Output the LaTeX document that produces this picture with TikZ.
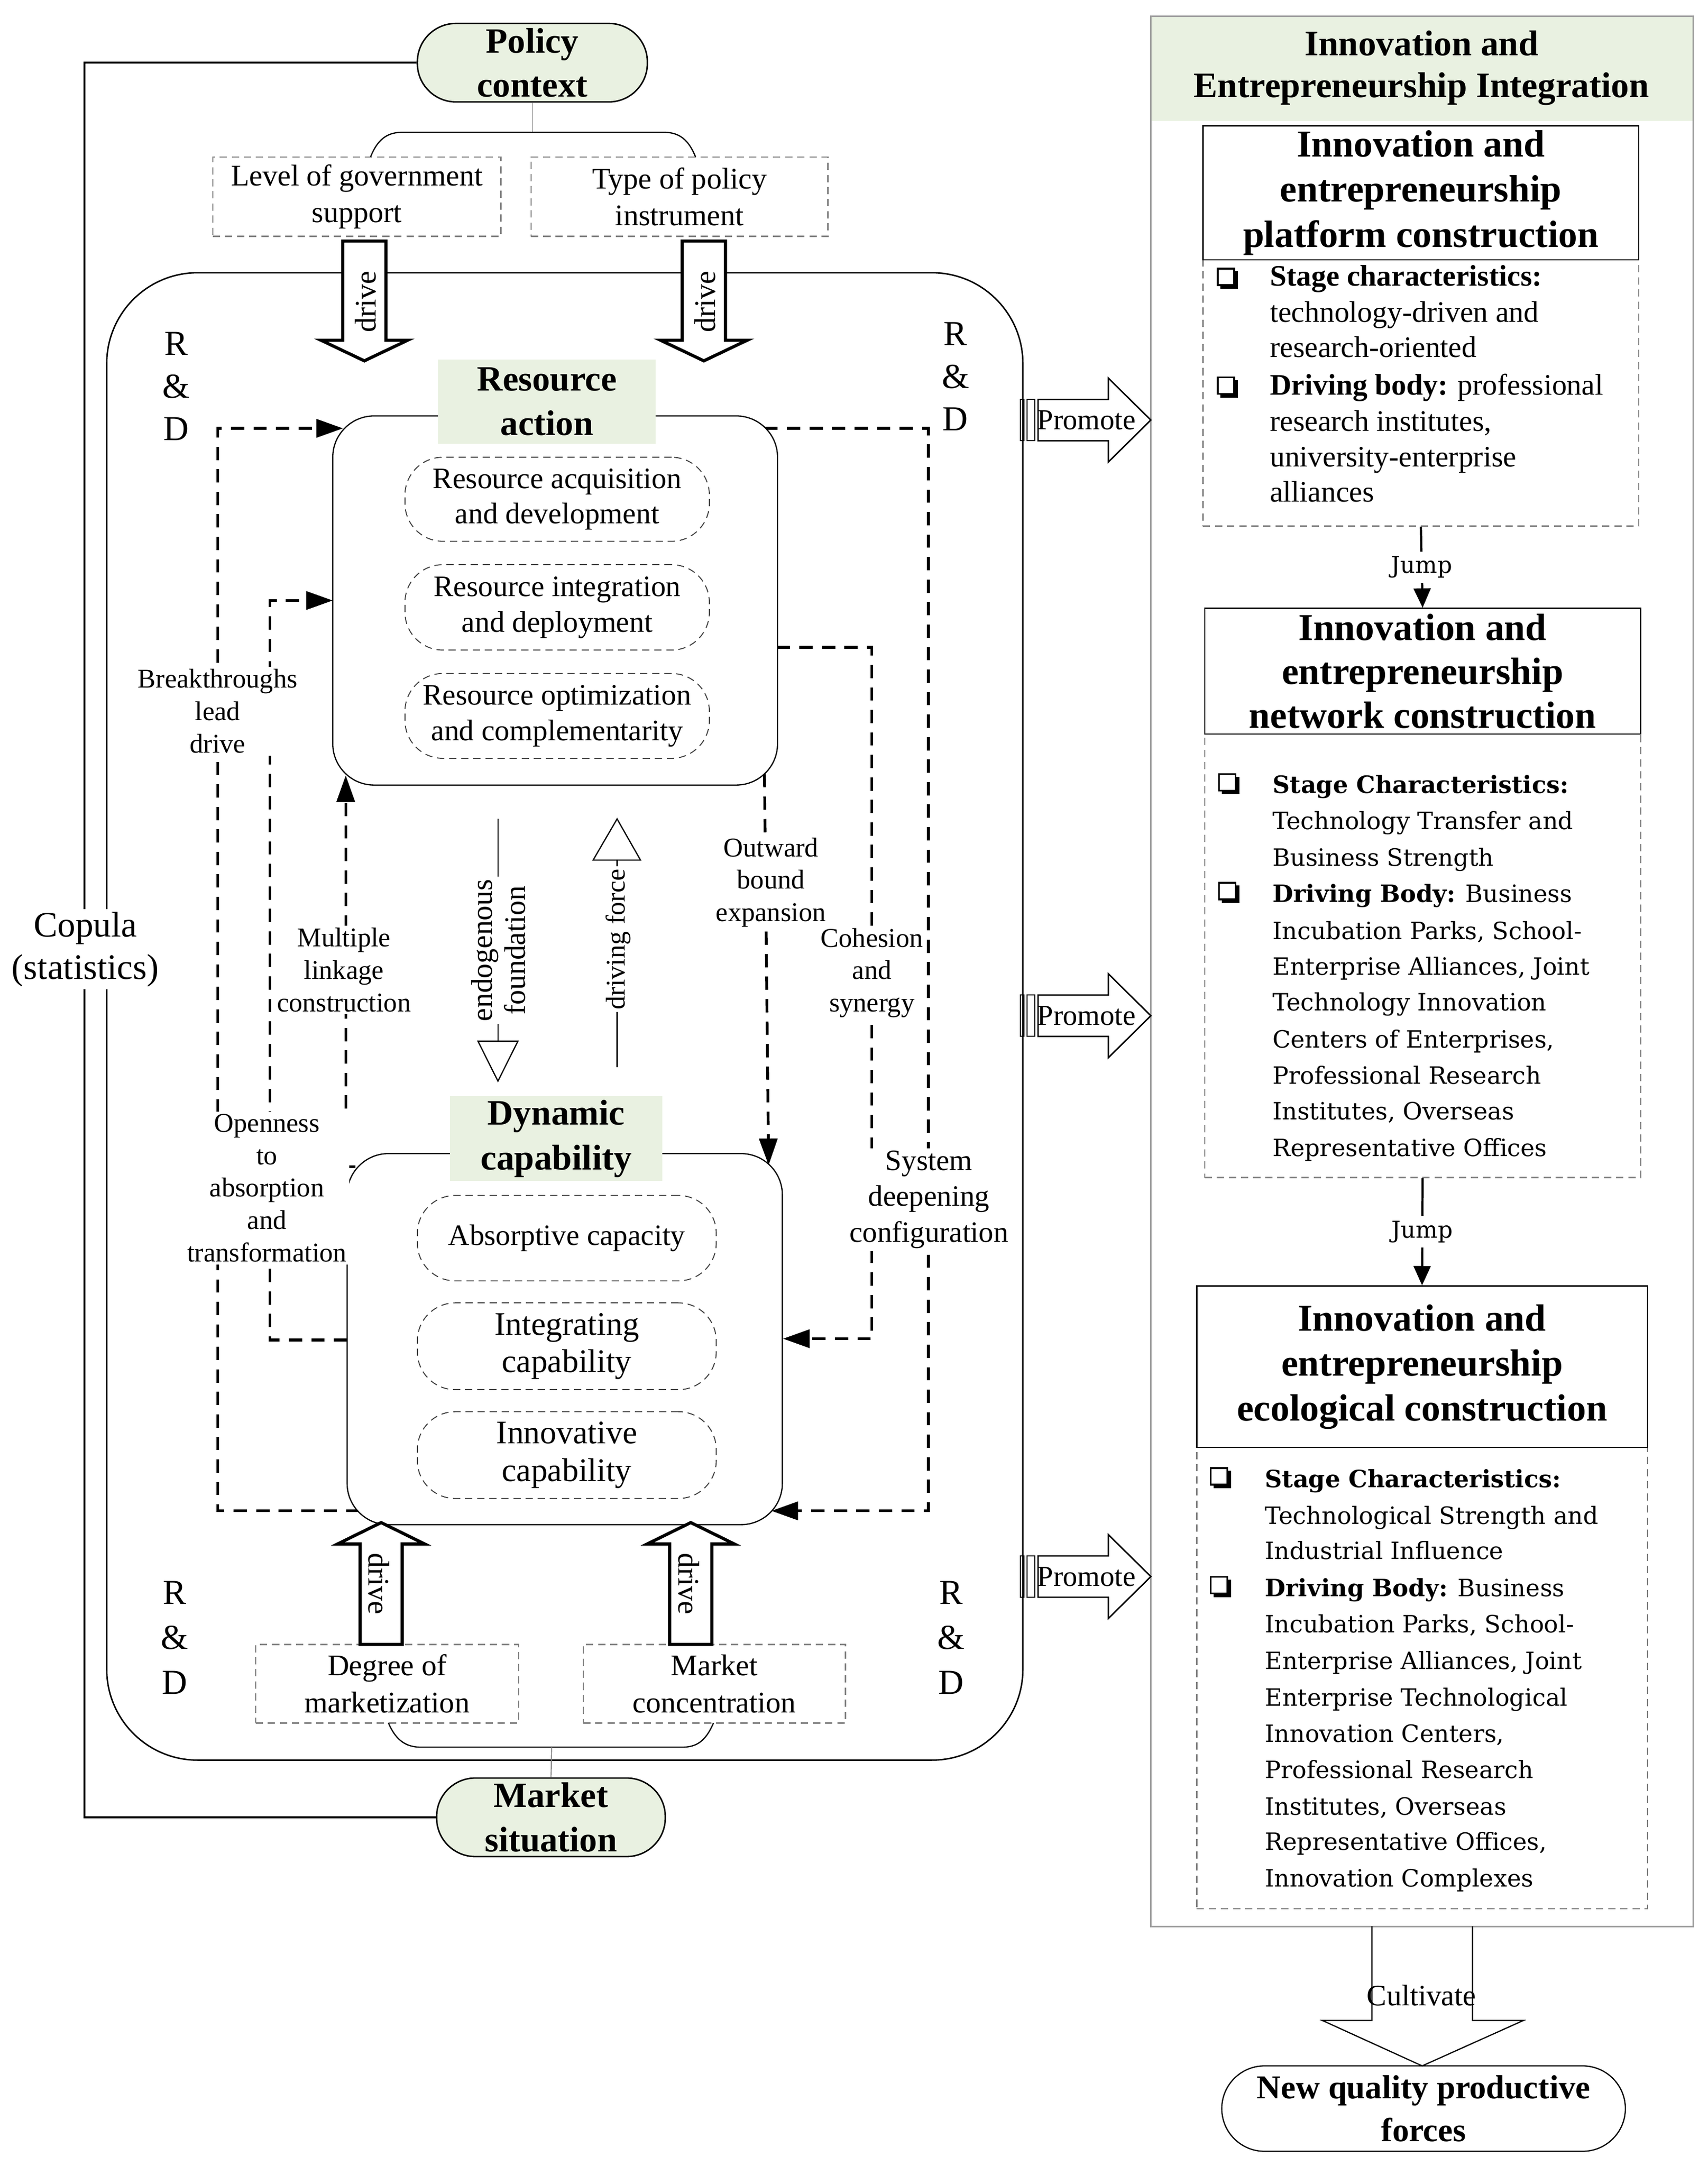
\documentclass[tikz,border=0pt]{standalone}
\usepackage{fontspec}
\setmainfont{Liberation Serif}
\newfontfamily\dvs{DejaVu Serif}
\usetikzlibrary{arrows.meta,fit}
\definecolor{lgreen}{RGB}{233,241,225}
\definecolor{dgray}{RGB}{128,128,128}
\definecolor{pgray}{RGB}{160,160,160}
\newcommand\fsz[2]{\fontsize{#1}{#2}\selectfont}
\newcommand\chk[2]{%
  \draw[line width=0.7pt] (#1,#2) rectangle ++(12,12);
  \draw[line width=1.5pt] (#1,#2) ++(2,13.3) -- ++(11.3,0) -- ++(0,-11.3);}
\begin{document}
\begin{tikzpicture}[x=0.02cm,y=-0.02cm,line join=miter,
  box/.style={draw,inner sep=0pt,line width=0.5pt},
  txt/.style={inner sep=0pt,align=center},
  gtitle/.style={fill=lgreen,inner sep=0pt},
  gtt/.style={txt,font=\bfseries\fsz{14.7}{18.4}},
  gdash/.style={draw=dgray,line width=0.5pt,dash pattern=on 3pt off 2pt,inner sep=0pt},
  gdt/.style={txt,font=\fsz{12.4}{15.3}},
  pill/.style={draw=black!75,line width=0.4pt,dash pattern=on 3pt off 2pt,rounded corners=0.55cm,inner sep=0pt},
  dconn/.style={line width=1.15pt,dash pattern=on 5.5pt off 3.8pt,-{Triangle[length=11pt,width=7.5pt]}},
  lbl/.style={fill=white,inner sep=1pt,align=center,font=\fsz{11.2}{13.4}},
  darrow/.style={draw,fill=white,line width=1.3pt},
  oarrow/.style={draw,fill=white,line width=0.5pt},
  bl/.style={anchor=base west,inner sep=0pt},
  btxt/.style={bl,font=\fsz{12.3}{14}},
  wtxt/.style={bl,font=\dvs\fsz{9.85}{12}},
  rd/.style={align=center,font=\fsz{14.5}{17.6}},
  jline/.style={line width=0.9pt,-{Triangle[length=8pt,width=7pt]}},
  ttl/.style={box},
  ttt/.style={txt,font=\bfseries\fsz{15.7}{18.6}}]
\useasboundingbox (0,0) rectangle (1240,1572.7);

% ---------- outer frame ----------
\node[box,line width=0.6pt,rounded corners=1.32cm,fit={(77.5,198) (742.6,1278)}] (outer) {};

% ---------- policy / market ----------
\node[draw,line width=0.6pt,fill=lgreen,rounded corners=0.56cm,inner sep=0pt,fit={(303,17) (470,74)}] (policy) {};
\node[gtt,font=\bfseries\fsz{14.7}{18.2}] (policyt) at (policy.center) {Policy\\context};
\node[draw,line width=0.6pt,fill=lgreen,rounded corners=0.56cm,inner sep=0pt,fit={(317,1291) (483,1348)}] (market) {};
\node[gtt,font=\bfseries\fsz{14.7}{18.5}] (markett) at (market.center) {Market\\situation};
\draw[line width=0.8pt] (policy.west) -- (61.3,45.5) |- (market.west);
\node[fill=white,inner sep=1pt,align=center,font=\fsz{14.8}{17.6}] (copula) at (62,689.3) {Copula\\(statistics)};

% ---------- top factor boxes ----------
\node[gdash,fit={(154.5,114) (363.6,171.6)}] (gov) {};
\node[gdt] at (gov.center) {Level of government\\support};
\node[gdash,fit={(385.6,114) (601,171.6)}] (tool) {};
\node[gdt] at (tool.center) {Type of policy\\instrument};
\draw[draw=dgray,line width=0.4pt] (policy.south) -- (386.5,96);
\draw[line width=0.5pt] (269,114) .. controls (275,99) and (283,96) .. (293,96) -- (481,96)
      .. controls (491,96) and (499,99) .. (505,114);

% ---------- bottom factor boxes ----------
\node[gdash,fit={(185.6,1194) (376.5,1251)}] (mkz) {};
\node[gdt] at (mkz.center) {Degree of\\marketization};
\node[gdash,fit={(423.4,1194) (613.8,1251)}] (mcon) {};
\node[gdt] at (mcon.center) {Market\\concentration};
\draw[line width=0.5pt] (282,1251) .. controls (288,1265) and (296,1268.6) .. (306,1268.6) -- (495,1268.6)
      .. controls (505,1268.6) and (512,1265) .. (518,1251);
\draw[draw=dgray,line width=0.4pt] (400.5,1268.6) -- (market.north);

% ---------- R&D ----------
\node[rd] (rd1) at (128,280.5) {R\\\&\\D};
\node[rd] (rd2) at (693.7,273.5) {R\\\&\\D};
\node[rd,font=\fsz{14.5}{18.6}] (rd3) at (126.8,1189) {R\\\&\\D};
\node[rd,font=\fsz{14.5}{18.6}] (rd4) at (690.4,1189) {R\\\&\\D};

% ---------- dashed connectors ----------
\coordinate (c1s) at (261,1097);
\coordinate (c1e) at (249,311);
\draw[dconn] (c1s) -| (158,311) -- (c1e);
\coordinate (c2s) at (252,973);
\coordinate (c2e) at (241.6,436);
\draw[dconn] (c2s) -| (196,436) -- (c2e);
\coordinate (c3s) at (258,847);
\coordinate (c3e) at (251,563);
\draw[dconn] (c3s) -- (251,847) -- (c3e);
\coordinate (c4s) at (555,562);
\coordinate (c4e) at (558,846);
\draw[dconn] (c4s) -- (c4e);
\coordinate (c5s) at (564,470);
\coordinate (c5e) at (568.5,972);
\draw[dconn] (c5s) -| (633,972) -- (c5e);
\coordinate (c6s) at (555,311);
\coordinate (c6e) at (560,1097);
\draw[dconn] (c6s) -| (674,1097) -- (c6e);

% ---------- resource action ----------
\node[box,fill=white,rounded corners=0.6cm,fit={(241.6,302) (564.5,570)}] (ra) {};
\node[gtitle,fit={(318,261) (476,322)}] (rat) {};
\node[gtt] at (rat.center) {Resource\\action};
\node[pill,fit={(294,332) (515,393)}] (ra1) {};
\node[txt,font=\fsz{12.3}{14.7}] at (ra1.center) {Resource acquisition\\and development};
\node[pill,fit={(294,410) (515,472)}] (ra2) {};
\node[txt,font=\fsz{12.3}{14.7}] at (ra2.center) {Resource integration\\and deployment};
\node[pill,fit={(294,489) (515,550.6)}] (ra3) {};
\node[txt,font=\fsz{12.3}{14.7}] at (ra3.center) {Resource optimization\\and complementarity};

% ---------- dynamic capability ----------
\node[box,fill=white,rounded corners=0.6cm,fit={(252,837.6) (568,1107)}] (dc) {};
\node[gtitle,fit={(326.7,796) (481,857.6)}] (dct) {};
\node[gtt,font=\bfseries\fsz{14.8}{18.6}] at (dct.center) {Dynamic\\capability};
\node[pill,fit={(303,868) (520,930)}] (dc1) {};
\node[txt,font=\fsz{12.2}{14.7}] at (dc1.center) {Absorptive capacity};
\node[pill,fit={(303,946) (520,1009)}] (dc2) {};
\node[txt,font=\fsz{13.6}{15.5}] at (dc2.center) {Integrating\\capability};
\node[pill,fit={(303,1025) (520,1088)}] (dc3) {};
\node[txt,font=\fsz{13.6}{15.5}] at (dc3.center) {Innovative\\capability};

% ---------- connector labels ----------
\node[lbl] (l1) at (158,516.4) {Breakthroughs\\lead\\drive};
\node[lbl] (l2) at (193.8,862.6) {Openness\\to\\absorption\\and\\transformation};
\node[lbl] (l3) at (249.7,704.2) {Multiple\\linkage\\construction};
\node[lbl] (l4) at (559.7,640.7) {Outward\\bound\\expansion};
\node[lbl] (l5) at (633,706.4) {Cohesion\\and\\synergy};
\node[lbl,font=\fsz{12.2}{14.9}] (l6) at (674.4,871) {System\\deepening\\configuration};

% ---------- endogenous foundation / driving force ----------
\coordinate (e1) at (361.5,594.6);
\coordinate (e2) at (361.5,756);
\draw[line width=0.5pt] (e1) -- (e2);
\draw[oarrow] (347,756) -- (376,756) -- (361.5,785) -- cycle;
\node[rotate=90,fill=white,inner sep=1pt,align=center,font=\fsz{12.3}{13.6}] (endo) at (362,690) {endogenous\\foundation};
\coordinate (f1) at (448,624.5);
\coordinate (f2) at (448,775);
\draw[line width=0.5pt] (f1) -- (f2);
\draw[oarrow] (430.6,624.5) -- (465,624.5) -- (448,594.6) -- cycle;
\node[rotate=90,fill=white,inner sep=1pt,font=\fsz{11.2}{13}] (drf) at (449,682) {driving force};

% ---------- drive arrows ----------
\foreach \cx/\nm in {264.5/dt1,511/dt2}{
  \draw[darrow] (\cx-15.7,175) -- (\cx+15.7,175) -- (\cx+15.7,247) -- (\cx+31.5,247)
     -- (\cx,262) -- (\cx-31.5,247) -- (\cx-15.7,247) -- cycle;
  \node[rotate=90,inner sep=0pt,font=\fsz{12.4}{14}] (\nm) at (\cx+1,219) {drive};
}
\foreach \cx/\nm in {276.7/db1,501.5/db2}{
  \draw[darrow] (\cx-15.3,1194) -- (\cx-15.3,1121) -- (\cx-31.5,1121) -- (\cx,1105.5)
     -- (\cx+31.5,1121) -- (\cx+15.3,1121) -- (\cx+15.3,1194) -- cycle;
  \node[rotate=-90,inner sep=0pt,font=\fsz{12.4}{14}] (\nm) at (\cx-1.5,1150) {drive};
}

% ---------- right panel ----------
\node[fill=lgreen,inner sep=0pt,fit={(835.5,11.8) (1229.4,87.7)}] (hdr) {};
\node[draw=pgray,line width=0.6pt,inner sep=0pt,fit={(835.5,11.8) (1229.4,1398.7)}] (panel) {};
\node[txt,font=\bfseries\fsz{14.8}{17.3}] (hdrt) at (1032,49.5)
   {Innovation and\\Entrepreneurship Integration};

% box 1
\node[gdash,fit={(873.3,188.7) (1189.8,382)}] (b1) {};
\node[ttl,fit={(873.3,91.3) (1189.8,188.7)}] (t1) {};
\node[ttt] at (t1.center) {Innovation and\\entrepreneurship\\platform construction};
\chk{884}{195}
\chk{884}{274}
\node[btxt] at (921.7,207.7) {\bfseries Stage characteristics:};
\node[btxt] at (921.7,234) {technology-driven and};
\node[btxt] at (921.7,259.5) {research-oriented};
\node[btxt] at (921.7,286.6) {\textbf{Driving body:} professional};
\node[btxt] at (921.7,313) {research institutes,};
\node[btxt] at (921.7,339) {university-enterprise};
\node[btxt] at (921.7,364.5) {alliances};

% box 2
\node[gdash,fit={(874.6,533) (1191,855)}] (b2) {};
\node[ttl,fit={(874.6,441.7) (1191,533)}] (t2) {};
\node[ttt,font=\bfseries\fsz{15.7}{18.1}] at (t2.center) {Innovation and\\entrepreneurship\\network construction};
\chk{885}{562}
\chk{885}{641}
\node[wtxt] at (923.6,576) {\bfseries Stage Characteristics:};
\node[wtxt] at (923.6,602) {Technology Transfer and};
\node[wtxt] at (923.6,628.7) {Business Strength};
\node[wtxt] at (923.6,655) {\textbf{Driving Body:} Business};
\node[wtxt] at (923.6,682) {Incubation Parks, School-};
\node[wtxt] at (923.6,708) {Enterprise Alliances, Joint};
\node[wtxt] at (923.6,734) {Technology Innovation};
\node[wtxt] at (923.6,761) {Centers of Enterprises,};
\node[wtxt] at (923.6,787) {Professional Research};
\node[wtxt] at (923.6,813) {Institutes, Overseas};
\node[wtxt] at (923.6,839.5) {Representative Offices};

% box 3
\node[gdash,fit={(868.8,1051) (1196,1386)}] (b3) {};
\node[ttl,fit={(868.8,933.7) (1196,1051)}] (t3) {};
\node[ttt] at (t3.center) {Innovation and\\entrepreneurship\\ecological construction};
\chk{879}{1066}
\chk{879}{1145}
\node[wtxt] at (918,1080) {\bfseries Stage Characteristics:};
\node[wtxt] at (918,1106.6) {Technological Strength and};
\node[wtxt] at (918,1132) {Industrial Influence};
\node[wtxt] at (918,1159) {\textbf{Driving Body:} Business};
\node[wtxt] at (918,1185.6) {Incubation Parks, School-};
\node[wtxt] at (918,1212) {Enterprise Alliances, Joint};
\node[wtxt] at (918,1238.5) {Enterprise Technological};
\node[wtxt] at (918,1265) {Innovation Centers,};
\node[wtxt] at (918,1291) {Professional Research};
\node[wtxt] at (918,1318) {Institutes, Overseas};
\node[wtxt] at (918,1343.4) {Representative Offices,};
\node[wtxt] at (918,1369.8) {Innovation Complexes};

% jumps
\draw[jline] (b1.south) -- (t2.north) node[pos=0.5,fill=white,inner sep=2pt,font=\dvs\fsz{9.6}{11}] (j1) {Jump};
\draw[jline] (b2.south) -- (t3.north) node[pos=0.5,fill=white,inner sep=2pt,font=\dvs\fsz{9.6}{11}] (j2) {Jump};

% promote arrows
\foreach \py/\nm in {305/p1,737.5/p2,1144.7/p3}{
  \draw[line width=0.4pt] (740.8,\py-15) rectangle (743.5,\py+15);
  \draw[line width=0.4pt] (745.8,\py-15) rectangle (751.3,\py+15);
  \draw[oarrow,line width=0.6pt] (753.6,\py-15) -- (804.6,\py-15) -- (804.6,\py-30.5) -- (835.5,\py)
     -- (804.6,\py+30.5) -- (804.6,\py+15) -- (753.6,\py+15) -- cycle;
  \node[inner sep=0pt,font=\fsz{12}{14}] (\nm) at (788.8,\py) {Promote};
}

% cultivate
\draw[line width=0.5pt] (996,1398.7) -- (996,1467) -- (960,1467) -- (1032.5,1500) -- (1106,1467)
   -- (1069,1467) -- (1069,1398.7);
\node[inner sep=0pt,font=\fsz{12.3}{14}] (cult) at (1032,1449) {Cultivate};
\node[draw,line width=0.5pt,rounded corners=0.62cm,inner sep=0pt,fit={(887,1500) (1180,1562)}] (nqpf) {};
\node[txt,font=\bfseries\fsz{13.8}{17.8}] at (nqpf.center) {New quality productive\\forces};
\end{tikzpicture}
\end{document}
